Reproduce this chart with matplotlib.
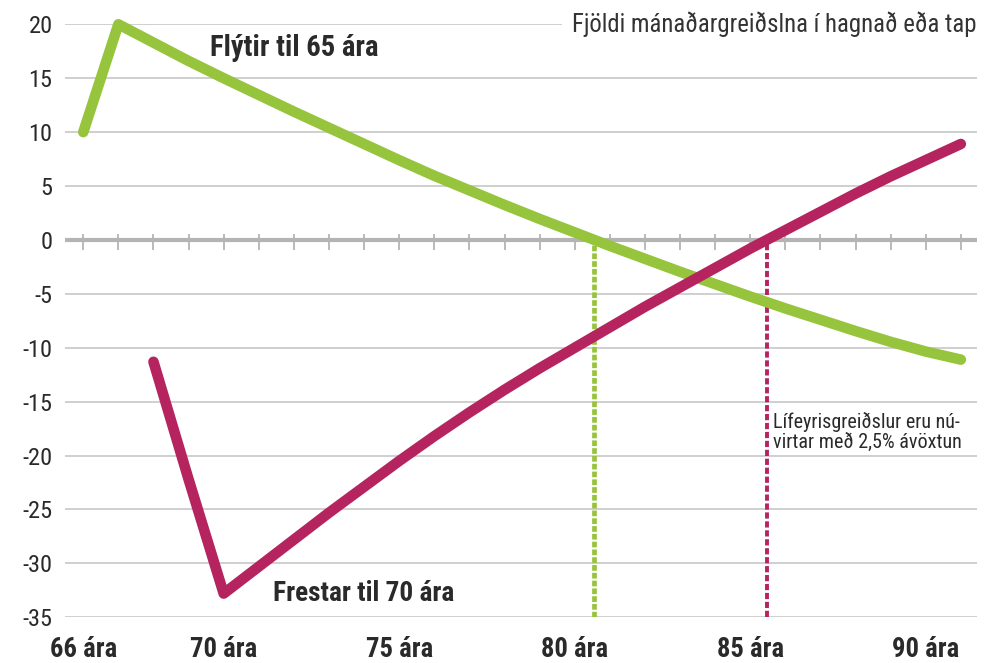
import matplotlib
matplotlib.use("Agg")
import matplotlib.pyplot as plt
from matplotlib import font_manager

# Data: months of pension gained (+) or lost (-) by age, present-valued at 2.5%
ages_early = list(range(66, 92))
early_65 = [10.0, 20.0, 18.3, 16.6, 15.0, 13.45, 11.9, 10.4, 8.9, 7.4,
            5.95, 4.6, 3.25, 1.95, 0.7, -0.55, -1.75, -2.95, -4.1, -5.25,
            -6.35, -7.4, -8.45, -9.45, -10.35, -11.1]

ages_late = list(range(68, 92))
late_70 = [-11.3, -22.2, -32.8, -30.3, -27.8, -25.3, -22.9, -20.5, -18.2, -16.0,
           -13.9, -11.9, -10.0, -8.1, -6.2, -4.4, -2.6, -0.8, 0.9, 2.6,
           4.3, 5.9, 7.4, 8.9]

breakeven_early = 80.55
breakeven_late = 85.47

xtick_ages = [66, 70, 75, 80, 85, 90]
xtick_labels = [f"{a} ára" for a in xtick_ages]
ytick_values = list(range(-35, 21, 5))

title_text = "Fjöldi mánaðargreiðslna í hagnað eða tap"
label_early = "Flýtir til 65 ára"
label_late = "Frestar til 70 ára"
note_text = "Lífeyrisgreiðslur eru nú-\nvirtar með 2,5% ávöxtun"

GREEN = "#96c43c"
PINK = "#b5245f"
GRID = "#cbcbcb"
ZERO = "#b4b4b4"
TEXT = "#2a2a2a"

# pick a condensed sans family that has both regular and bold faces
weights = {}
for f in font_manager.fontManager.ttflist:
    weights.setdefault(f.name, set()).add(f.weight)
candidates = ["Roboto Condensed", "Barlow Semi Condensed", "Barlow Condensed",
              "Archivo Narrow", "PT Sans Narrow", "Fira Sans Condensed",
              "IBM Plex Sans Condensed", "Encode Sans Condensed",
              "Saira SemiCondensed", "Sofia Sans Condensed", "Liberation Sans Narrow"]
family = "DejaVu Sans"
for c in candidates:
    w = weights.get(c, set())
    if 400 in w and any(x >= 600 for x in w):
        family = c
        break
plt.rcParams["font.family"] = [family, "DejaVu Sans"]

W, H = 984, 663
fig = plt.figure(figsize=(W / 100, H / 100), dpi=100)
left_px, right_px, top_px, bottom_px = 65, 977, 24.3, 617.3
ax = fig.add_axes([left_px / W, 1 - bottom_px / H,
                   (right_px - left_px) / W, (bottom_px - top_px) / H])

ax.set_xlim(65.48, 91.46)
ax.set_ylim(-35, 20)
for s in ax.spines.values():
    s.set_visible(False)

# horizontal gridlines
for v in ytick_values:
    if v == 0:
        continue
    ax.axhline(v, color=GRID, lw=1.3, zorder=1)

# zero line with yearly tick marks
ax.axhline(0, color=ZERO, lw=3.0, zorder=2)
ax.vlines(ages_early, -0.93, 0.56, color=ZERO, lw=1.3, zorder=2)

# break-even markers
ax.vlines(breakeven_early, -35, 0, color=GREEN, lw=3.4,
          linestyles=[(0, (1.2, 0.45))], zorder=3)
ax.vlines(breakeven_late, -35, 0, color=PINK, lw=2.8,
          linestyles=[(0, (1.6, 0.7))], zorder=3)

# series
ax.plot(ages_early, early_65, color=GREEN, lw=7.6, solid_capstyle="round",
        solid_joinstyle="round", zorder=4, clip_on=False)
ax.plot(ages_late, late_70, color=PINK, lw=7.6, solid_capstyle="round",
        solid_joinstyle="round", zorder=5, clip_on=False)

# axes ticks
ax.set_yticks(ytick_values)
ax.set_yticklabels([str(v) for v in ytick_values])
ax.set_xticks(xtick_ages)
ax.set_xticklabels(xtick_labels)
ax.tick_params(axis="y", length=0, pad=9, labelsize=17, labelcolor=TEXT)
ax.tick_params(axis="x", length=0, pad=13.5, labelsize=17.5, labelcolor=TEXT)
for lab in ax.get_xticklabels():
    lab.set_fontweight("bold")

# title on the top gridline
title = ax.text(1.0, 20, title_text, transform=ax.get_yaxis_transform(),
                ha="right", va="center", fontsize=17, color="#333333",
                bbox=dict(facecolor="white", edgecolor="none", pad=7), zorder=6)

# series labels
lab_early = ax.text(69.61, 17.83, label_early, ha="left", va="center", fontsize=17,
                    fontweight="bold", color=TEXT, zorder=6)
lab_late = ax.text(71.4, -32.78, label_late, ha="left", va="center", fontsize=17,
                   fontweight="bold", color=TEXT, zorder=6)

# footnote beside the late break-even marker
note = ax.text(breakeven_late + 0.18, -17.8, note_text, ha="left", va="center",
               fontsize=14, color=TEXT, linespacing=1.1, zorder=6)

# size texts to their intended pixel widths
fig.canvas.draw()
renderer = fig.canvas.get_renderer()


def width_of(t):
    return t.get_window_extent(renderer).width


for t, target in [(title, 405), (lab_early, 168), (lab_late, 182), (note, 190)]:
    t.set_fontsize(t.get_fontsize() * target / width_of(t))

xl = ax.get_xticklabels()
xs = 17.5 * 67 / width_of(xl[0])
yl = ax.get_yticklabels()
ys = 17 * 30 / width_of(yl[0])
ax.tick_params(axis="x", labelsize=xs)
ax.tick_params(axis="y", labelsize=ys)

fig.savefig("out.png", dpi=100, facecolor="white")
